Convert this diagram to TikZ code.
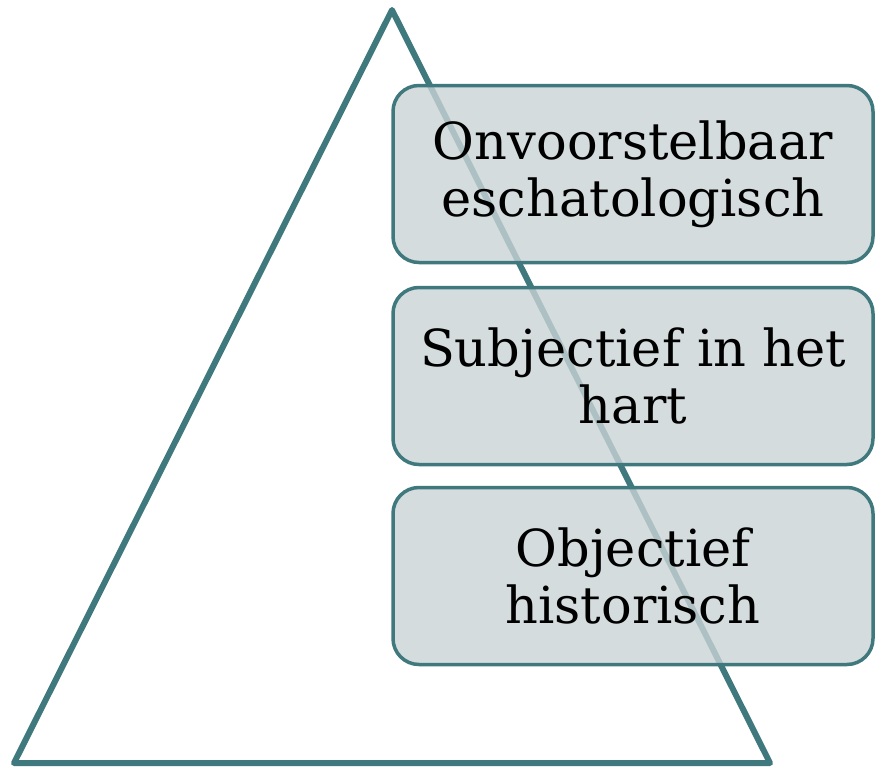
\documentclass[tikz,border=0pt]{standalone}
\usepackage{fontspec}
\setmainfont{DejaVu Serif}
\definecolor{teal1}{RGB}{64,121,125}
\definecolor{boxfill}{RGB}{201,211,214}
\tikzset{
  tri/.style={draw=teal1, line width=6pt, line join=round},
  lvl/.style={draw=teal1, line width=3.5pt, fill=boxfill, fill opacity=0.8, text opacity=1,
    rounded corners=26pt, minimum width=480pt, minimum height=177pt, inner sep=0pt,
    align=center, font=\fontsize{51}{57}\selectfont}
}
\begin{document}
\begin{tikzpicture}[x=1pt,y=-1pt]
\useasboundingbox (0,0) rectangle (875,768);
\coordinate (apex) at (392,10);
\coordinate (bl) at (14,763);
\coordinate (br) at (770,763);
\draw[tri] (apex) -- (br) -- (bl) -- cycle;
\node[lvl] (a) at (633,174) {Onvoorstelbaar\\eschatologisch};
\node[lvl] (b) at (633,376) {Subjectief in het\\hart};
\node[lvl] (c) at (633,576) {Objectief\\historisch};
\end{tikzpicture}
\end{document}
